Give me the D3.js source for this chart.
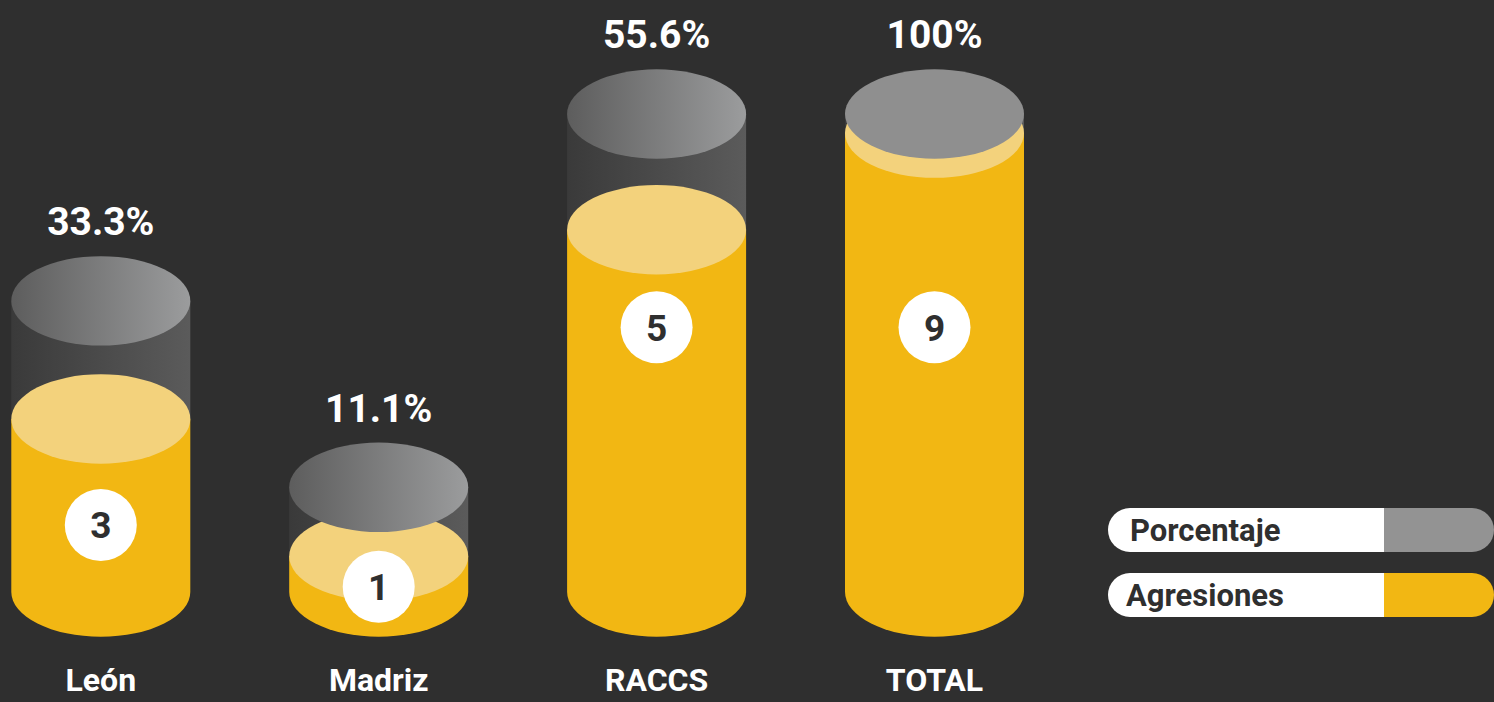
<!DOCTYPE html>
<html>
<head>
<meta charset="utf-8">
<script src="https://cdn.jsdelivr.net/npm/d3@7"></script>
<style>
  html, body { margin: 0; padding: 0; background: #2f2f2f; }
  svg { display: block; }
  text { font-family: Roboto, "Noto Sans", sans-serif; font-weight: 700; }
</style>
</head>
<body>
<svg id="chart" width="1494" height="702"></svg>
<script>
// ---- data ----
const categories = ["León", "Madriz", "RACCS", "TOTAL"];
const agresiones = [3, 1, 5, 9];
const porcentajes = [33.3, 11.1, 55.6, 100];
// illustrative levels (0–100)
const tankLevel = [60.9, 21.9, 100, 100];
const fillLevel = [36.2, 7.5, 75.8, 96.0];
const badgeLevel = [14.0, 1.1, 55.4, 55.4];
const legendLabels = ["Porcentaje", "Agresiones"];

// ---- layout ----
const W = 1494, H = 702;
const svg = d3.select("#chart");
svg.append("rect").attr("width", W).attr("height", H).attr("fill", "#2f2f2f");

const x = d3.scalePoint().domain(categories).range([100.8, 934.5]);
const y = d3.scaleLinear().domain([0, 100]).range([592, 114]);
const rx = 89.5, ry = 44.7;

const defs = svg.append("defs");
const gBody = defs.append("linearGradient").attr("id", "glassBody").attr("x1", "0").attr("x2", "1").attr("y1", "0").attr("y2", "0");
gBody.append("stop").attr("offset", "0").attr("stop-color", "#3a3a3a");
gBody.append("stop").attr("offset", "1").attr("stop-color", "#5b5b5b");
const gTop = defs.append("linearGradient").attr("id", "glassTop").attr("x1", "0").attr("x2", "1").attr("y1", "0").attr("y2", "0");
gTop.append("stop").attr("offset", "0").attr("stop-color", "#5d5d5d");
gTop.append("stop").attr("offset", "1").attr("stop-color", "#9b9c9d");

const yellow = "#f2b713", yellowLight = "#f3d27c", grayLegend = "#939393";

const data = categories.map((c, i) => ({
  cat: c, n: agresiones[i], pct: porcentajes[i],
  tank: tankLevel[i], fill: fillLevel[i], badge: badgeLevel[i]
}));

const fmtPct = p => (p === 100 ? "100" : d3.format(".1f")(p)) + "%";

const g = svg.selectAll("g.cyl").data(data).join("g").attr("class", "cyl");

// glass body
g.append("rect")
  .attr("x", d => x(d.cat) - rx)
  .attr("width", rx * 2)
  .attr("y", d => y(d.tank))
  .attr("height", d => y(d.fill) - y(d.tank))
  .attr("fill", "url(#glassBody)");

// yellow body with rounded bottom
g.append("path")
  .attr("fill", yellow)
  .attr("d", d => {
    const cx = x(d.cat), top = y(d.fill), bot = y(0);
    return `M${cx - rx},${top} L${cx - rx},${bot} A${rx},${ry} 0 0 0 ${cx + rx},${bot} L${cx + rx},${top} Z`;
  });

// yellow top
g.append("ellipse")
  .attr("cx", d => x(d.cat)).attr("cy", d => y(d.fill))
  .attr("rx", rx).attr("ry", ry)
  .attr("fill", yellowLight);

// glass top
g.append("ellipse")
  .attr("cx", d => x(d.cat)).attr("cy", d => y(d.tank))
  .attr("rx", rx).attr("ry", ry)
  .attr("fill", d => d.pct === 100 ? "#8f8f8f" : "url(#glassTop)");

// percentage label
g.append("text")
  .attr("x", d => x(d.cat)).attr("y", d => y(d.tank) - ry - 21)
  .attr("text-anchor", "middle").attr("fill", "#ffffff")
  .attr("font-size", 39)
  .text(d => fmtPct(d.pct));

// count badge
g.append("circle")
  .attr("cx", d => x(d.cat)).attr("cy", d => y(d.badge))
  .attr("r", 36).attr("fill", "#ffffff");
g.append("text")
  .attr("x", d => x(d.cat)).attr("y", d => y(d.badge))
  .attr("dy", "0.36em")
  .attr("text-anchor", "middle").attr("fill", "#2f2f2f")
  .attr("font-size", 37)
  .text(d => d.n);

// category labels
g.append("text")
  .attr("x", d => x(d.cat)).attr("y", 691)
  .attr("text-anchor", "middle").attr("fill", "#ffffff")
  .attr("font-size", 32)
  .text(d => d.cat);

// ---- legend ----
const legendColors = [grayLegend, yellow];
const lx0 = 1108, lx1 = 1384, lx2 = 1494, lh = 44, lr = 22;
const leg = svg.selectAll("g.leg").data(legendLabels).join("g").attr("class", "leg")
  .attr("transform", (d, i) => `translate(0, ${508 + i * 65})`);
leg.append("path")
  .attr("fill", (d, i) => legendColors[i])
  .attr("d", `M${lx1},0 L${lx2 - lr},0 A${lr},${lr} 0 0 1 ${lx2 - lr},${lh} L${lx1},${lh} Z`);
leg.append("path")
  .attr("fill", "#ffffff")
  .attr("d", `M${lx0 + lr},0 L${lx1},0 L${lx1},${lh} L${lx0 + lr},${lh} A${lr},${lr} 0 0 1 ${lx0 + lr},0 Z`);
leg.append("text")
  .attr("x", (d, i) => i === 0 ? 1130 : 1126)
  .attr("y", lh / 2).attr("dy", "0.36em")
  .attr("fill", "#2f2f2f").attr("font-size", 31)
  .text(d => d);
</script>
</body>
</html>
